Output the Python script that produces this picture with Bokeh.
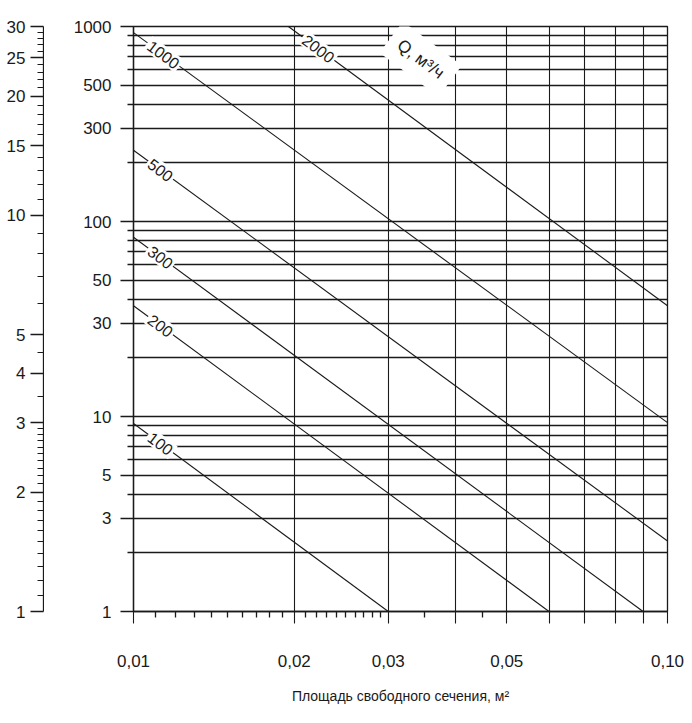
import math
from bokeh.plotting import figure
from bokeh.models import Range1d, FixedTicker, Label, ColumnDataSource
from bokeh.layouts import row
from bokeh.embed import file_html
from bokeh.resources import INLINE

FONT = "Liberation Sans"
INK = "#1a1a1a"

# ---- data ----
flow_q = [100, 200, 300, 500, 1000, 2000]          # Q, m3/h (curve labels)
x_start = [0.01, 0.01, 0.01, 0.01, 0.01, 0.0195]    # area, m2
y_start = [9.2, 37.0, 83.0, 232.0, 930.0, 1000.0]   # pressure loss
x_end = [0.030, 0.060, 0.090, 0.100, 0.100, 0.100]
y_end = [1.0, 1.0, 1.0, 2.3, 9.3, 37.0]
label_x = [0.01124, 0.01124, 0.01124, 0.01124, 0.01138, 0.0222]

y_major = [1, 3, 5, 10, 30, 50, 100, 300, 500, 1000]
y_minor = [2, 4, 6, 7, 8, 9, 20, 40, 60, 70, 80, 90, 200, 400, 600, 700, 800, 900]
x_grid = [0.01, 0.02, 0.03, 0.04, 0.05, 0.06, 0.07, 0.08, 0.09, 0.1]
x_tick_labels = {0.01: "0,01", 0.02: "0,02", 0.03: "0,03", 0.05: "0,05", 0.1: "0,10"}
x_minor = [0.011, 0.012, 0.013, 0.014, 0.015, 0.016, 0.017, 0.018, 0.019,
           0.021, 0.022, 0.023, 0.024, 0.025, 0.026, 0.027, 0.028, 0.029,
           0.035, 0.045]

v_major = [1, 2, 3, 4, 5, 10, 15, 20, 25, 30]
v_minor = [1.1, 1.2, 1.3, 1.4, 1.5, 1.6, 1.7, 1.8, 1.9,
           2.1, 2.2, 2.3, 2.4, 2.5, 2.6, 2.7, 2.8, 2.9,
           3.5, 4.5, 6, 7, 8, 9, 11, 12, 13, 14, 16, 17, 18, 19,
           21, 22, 23, 24, 26, 27, 28, 29]

x_title = "Площадь свободного сечения, м²"
q_title = "Q, м³/ч"
q_title_pos = (0.0345, 680)

H = 715

# ---- left velocity scale ----
pv = figure(width=44, height=H, y_axis_type="log",
            x_range=Range1d(0, 1), y_range=Range1d(1, 30),
            x_axis_location=None, toolbar_location=None, output_backend="svg",
            min_border_left=43, min_border_right=0, min_border_top=20,
            min_border_bottom=H - 20 - 591)
pv.outline_line_color = None
pv.grid.visible = False
ya = pv.yaxis[0]
ya.ticker = FixedTicker(ticks=v_major, minor_ticks=v_minor)
ya.major_label_overrides = {v: str(v) for v in v_major}
ya.axis_line_color = INK
ya.axis_line_width = 1.3
ya.major_tick_line_color = INK
ya.major_tick_line_width = 1.3
ya.minor_tick_line_color = INK
ya.minor_tick_line_width = 1.1
ya.major_tick_in = 0
ya.major_tick_out = 13
ya.minor_tick_in = 0
ya.minor_tick_out = 6
ya.major_label_standoff = 5
ya.major_label_text_font = FONT
ya.major_label_text_font_size = "17px"
ya.major_label_text_color = INK

# ---- main chart ----
p = figure(width=640, height=H, x_axis_type="log", y_axis_type="log",
           x_range=Range1d(0.01, 0.1), y_range=Range1d(1, 1000),
           toolbar_location=None, output_backend="svg",
           min_border_left=89, min_border_right=17, min_border_top=26,
           min_border_bottom=H - 26 - 600)
p.outline_line_color = INK
p.outline_line_width = 1.3

p.xgrid.ticker = FixedTicker(ticks=x_grid)
p.ygrid.ticker = FixedTicker(ticks=y_major + y_minor)
p.xgrid.grid_line_color = INK
p.xgrid.grid_line_width = 1.1
p.ygrid.grid_line_color = INK
p.ygrid.grid_line_width = 1.4

yax = p.yaxis[0]
yax.ticker = FixedTicker(ticks=y_major, minor_ticks=y_minor)
yax.major_label_overrides = {v: str(v) for v in y_major}
yax.axis_line_color = INK
yax.axis_line_width = 1.3
yax.major_tick_line_color = INK
yax.major_tick_line_width = 1.4
yax.minor_tick_line_color = INK
yax.minor_tick_line_width = 1.4
yax.major_tick_in = 0
yax.major_tick_out = 13
yax.minor_tick_in = 0
yax.minor_tick_out = 6
yax.major_label_standoff = 9
yax.major_label_text_font = FONT
yax.major_label_text_font_size = "17px"
yax.major_label_text_color = INK

xax = p.xaxis[0]
xax.ticker = FixedTicker(ticks=x_grid, minor_ticks=x_minor)
xax.major_label_overrides = {v: x_tick_labels.get(v, "") for v in x_grid}
xax.axis_line_color = INK
xax.axis_line_width = 1.3
xax.major_tick_line_color = INK
xax.major_tick_line_width = 1.1
xax.minor_tick_line_color = INK
xax.minor_tick_line_width = 1.3
xax.major_tick_in = 0
xax.major_tick_out = 12
xax.minor_tick_in = 0
xax.minor_tick_out = 6
xax.major_label_standoff = 31
xax.major_label_text_font = FONT
xax.major_label_text_font_size = "17px"
xax.major_label_text_color = INK
xax.axis_label = x_title
xax.axis_label_text_font = FONT
xax.axis_label_text_font_size = "14px"
xax.axis_label_text_font_style = "normal"
xax.axis_label_text_color = INK
xax.axis_label_standoff = 18

src = ColumnDataSource(dict(
    xs=[[a, b] for a, b in zip(x_start, x_end)],
    ys=[[a, b] for a, b in zip(y_start, y_end)],
))
p.multi_line("xs", "ys", source=src, line_color=INK, line_width=1.1)

# pixel slope conversion: one x decade = 534 px, one y decade = 200 px
for q, xs0, ys0, xs1, ys1, lx in zip(flow_q, x_start, y_start, x_end, y_end, label_x):
    slope = math.log(ys1 / ys0) / math.log(xs1 / xs0)
    ly = ys0 * (lx / xs0) ** slope
    ang = math.atan(slope * 200.0 / 534.0)
    p.add_layout(Label(x=lx, y=ly, text=str(q), angle=ang,
                       text_align="center", text_baseline="middle",
                       text_font=FONT, text_font_size="16px", text_color=INK,
                       background_fill_color="white", padding=2))

p.add_layout(Label(x=q_title_pos[0], y=q_title_pos[1], text=q_title,
                   angle=math.atan(-2 * 200.0 / 534.0),
                   text_align="center", text_baseline="middle",
                   text_font=FONT, text_font_size="17px", text_color=INK,
                   background_fill_color="white", padding=10))

layout = row(pv, p)
open("out.html", "w").write(file_html(layout, INLINE))
